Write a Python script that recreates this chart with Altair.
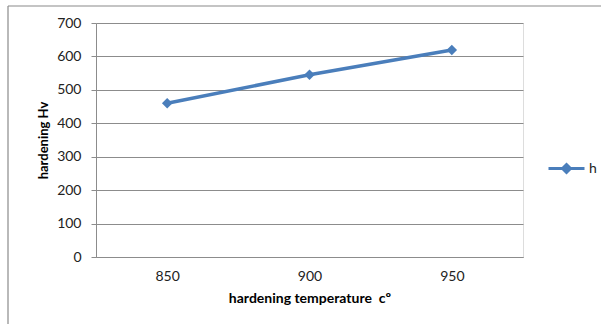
import altair as alt
import pandas as pd

temps = ["850", "900", "950"]
hardness = [460, 545, 619]
series = ["h", "h", "h"]
y_ticks = [0, 100, 200, 300, 400, 500, 600, 700]

df = pd.DataFrame({"temp": temps, "hv": hardness, "series": series})

FONT = "Lato"
BLUE = "#4A7EBB"
GRID = "#8c8c8c"

base = alt.Chart(df)

x_axis = alt.Axis(title="hardening temperature \u00a0cº", labelAngle=0,
                  ticks=False, labelPadding=12, titlePadding=8,
                  domainColor=GRID, labelFontSize=14, titleFontSize=14,
                  titleFontWeight="bold", labelColor="#222", titleColor="#000",
                  labelFont=FONT, titleFont=FONT)
y_axis = alt.Axis(title="hardening Hv", values=y_ticks,
                  labelOverlap=False,
                  grid=True, gridColor=GRID, domainColor=GRID, tickColor=GRID,
                  tickSize=5, labelPadding=10, titlePadding=6,
                  labelFontSize=14, titleFontSize=13, titleFontWeight="bold",
                  labelColor="#222", titleColor="#000",
                  labelFont=FONT, titleFont=FONT)

x = alt.X("temp:N", sort=temps, scale=alt.Scale(paddingInner=0, paddingOuter=0), axis=x_axis)
y = alt.Y("hv:Q", scale=alt.Scale(domain=[0, 700], nice=False, zero=True), axis=y_axis)

cscale = alt.Scale(domain=["h"], range=[BLUE])
color = alt.Color("series:N", scale=cscale,
                  legend=alt.Legend(title=None, orient="none", legendX=451, legendY=126,
                                    symbolType="M-1,0H1M0,-0.22L0.22,0L0,0.22L-0.22,0Z",
                                    symbolSize=1296, symbolStrokeWidth=3,
                                    symbolFillColor=BLUE, symbolStrokeColor=BLUE,
                                    labelFontSize=14, labelFont=FONT, labelColor="#222",
                                    labelOffset=3))

line = base.mark_line(strokeWidth=3.5, color=BLUE).encode(x=x, y=y, color=color)
pts = base.mark_point(shape="diamond", filled=True, size=110, opacity=1, color=BLUE).encode(
    x=x, y=y, color=color)

one = alt.Data(values=[{"a": 1}])
border_top = alt.Chart(one).mark_rule(color="#8a8a8a", strokeWidth=1.2, clip=False).encode(
    x=alt.value(-88), x2=alt.value(510), y=alt.value(-17))
border_left = alt.Chart(one).mark_rule(color="#8a8a8a", strokeWidth=1.2, clip=False).encode(
    x=alt.value(-88), y=alt.value(-17), y2=alt.value(310))

chart = alt.layer(line, pts, border_top, border_left).properties(
    width=427, height=234,
    autosize=alt.AutoSizeParams(type="none"),
    padding={"left": 96, "top": 23, "right": 78, "bottom": 67},
).configure_view(stroke=None).configure(background="white")

chart.save("out.html", embed_options={"renderer": "svg", "actions": False})
